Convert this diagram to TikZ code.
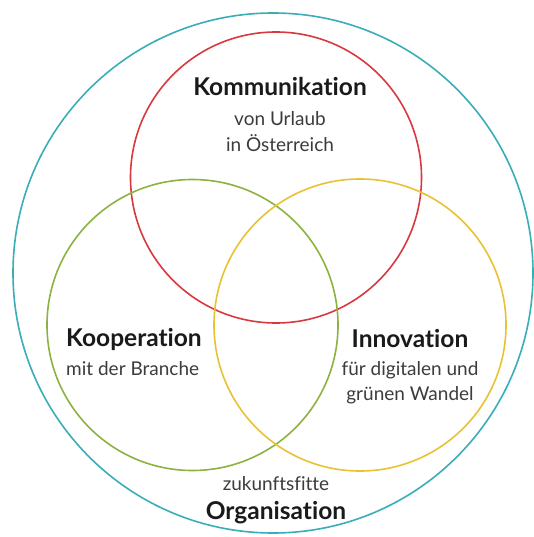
\documentclass[tikz,border=0pt]{standalone}
\usepackage{fontspec}
\setmainfont{Lato}[Ligatures=NoCommon]
\definecolor{teal1}{HTML}{3AAEB8}
\definecolor{red1}{HTML}{D8393F}
\definecolor{green1}{HTML}{8CB33F}
\definecolor{yellow1}{HTML}{E9C233}
\definecolor{txt}{HTML}{1A1A1A}
\begin{document}
\begin{tikzpicture}[x=1pt,y=-1pt,
  ring/.style={line width=1.6pt},
  title/.style={font=\fontsize{24.5}{28}\selectfont\bfseries, text=txt, inner sep=0pt, anchor=base},
  sub/.style={font=\fontsize{19}{22}\selectfont, text=txt!85, inner sep=0pt, anchor=base}]
\useasboundingbox[fill=white] (0,0) rectangle (534,537);
\draw[ring, teal1] (273,273) circle (260);
\draw[ring, red1] (276,177.5) circle (145.5);
\draw[ring, green1] (192.5,325) circle (145.5);
\draw[ring, yellow1] (360,325) circle (146);
\node[title] (kom) at (280,96) {Kommunikation};
\node[sub] (komsub1) at (280,126) {von Urlaub};
\node[sub] (komsub2) at (280,151.5) {in Österreich};
\node[title, anchor=base west] (koop) at (66,346.5) {Kooperation};
\node[sub, anchor=base west] (koopsub) at (66,375) {mit der Branche};
\node[title] (inno) at (410,347) {Innovation};
\node[sub] (innosub1) at (410,375) {für digitalen und};
\node[sub] (innosub2) at (410,400.5) {grünen Wandel};
\node[sub] (zuk) at (276,490.5) {zukunftsfitte};
\node[title] (org) at (276,519) {Organisation};
\end{tikzpicture}
\end{document}
